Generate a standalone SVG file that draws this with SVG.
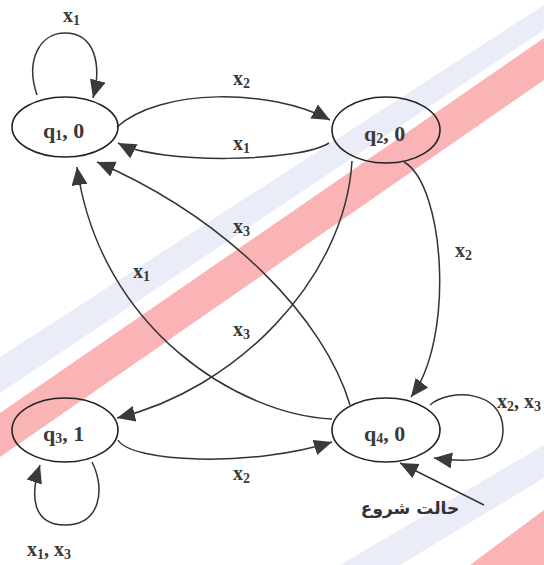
<svg xmlns="http://www.w3.org/2000/svg" width="544" height="565" viewBox="0 0 544 565">
  <style>
    .node ellipse { fill: none; stroke: #222; stroke-width: 1.6; }
    .nl { font-family: "Liberation Serif", "Times New Roman", serif; font-weight: bold; font-size: 22px; fill: #3a3a3a; }
    .el { font-family: "Liberation Serif", "Times New Roman", serif; font-weight: bold; font-size: 20px; fill: #3a3a3a; }
    .sub { font-size: 14px; }
    .edge { fill: none; stroke: #333; stroke-width: 1.5; marker-end: url(#ah); }
    .ar { font-family: "DejaVu Sans", sans-serif; font-weight: bold; font-size: 17px; fill: #333; }
  </style>
  <defs>
    <marker id="ah" markerUnits="userSpaceOnUse" markerWidth="20" markerHeight="18" refX="18" refY="8" orient="auto">
      <path d="M0,0 L18,8 L0,16 z" fill="#3a3a3a"/>
    </marker>
  </defs>
  <rect width="544" height="565" fill="#fff"/>
  <g id="watermark">
    <polygon points="544,5 544,30 0,393 0,357" fill="#eaedf8"/>
    <polygon points="544,38 544,80 0,457 0,413" fill="#fbb4b6"/>
    <polygon points="544,445 544,478 400,565 340,565" fill="#eaedf8"/>
    <polygon points="544,510 544,565 470,565" fill="#fbb4b6"/>
  </g>
  <g id="connectors">
    <path class="edge" d="M37,95 C25,60 40,33 65,33 C95,33 102,65 93,98"/>
    <path class="edge" d="M117,127 C160,88 270,88 330,120"/>
    <path class="edge" d="M329,143 C300,162 160,165 118,143"/>
    <path class="edge" d="M352,161 C345,280 235,390 117,418"/>
    <path class="edge" d="M350,405 C325,320 230,220 97,162"/>
    <path class="edge" d="M332,419 C240,415 100,330 77,167"/>
    <path class="edge" d="M404,162 C445,185 455,340 411,397"/>
    <path class="edge" d="M118,440 C130,462 250,468 332,442"/>
    <path class="edge" d="M430,405 C450,388 503,390 503,430 C503,462 470,463 434,458"/>
    <path class="edge" d="M92,462 C106,490 100,525 65,525 C32,525 30,495 40,465"/>
    <path class="edge" d="M484,505 L400,463"/>
    <text class="el" x="63" y="22">x<tspan class="sub" dy="3">1</tspan></text>
    <text class="el" x="233" y="85">x<tspan class="sub" dy="3">2</tspan></text>
    <text class="el" x="233" y="150">x<tspan class="sub" dy="3">1</tspan></text>
    <text class="el" x="233" y="233">x<tspan class="sub" dy="3">3</tspan></text>
    <text class="el" x="133" y="278">x<tspan class="sub" dy="3">1</tspan></text>
    <text class="el" x="233" y="336">x<tspan class="sub" dy="3">3</tspan></text>
    <text class="el" x="455" y="257">x<tspan class="sub" dy="3">2</tspan></text>
    <text class="el" x="233" y="480">x<tspan class="sub" dy="3">2</tspan></text>
    <text class="el" x="497" y="408">x<tspan class="sub" dy="3">2</tspan><tspan dy="-3">, x</tspan><tspan class="sub" dy="3">3</tspan></text>
    <text class="el" x="27" y="556">x<tspan class="sub" dy="3">1</tspan><tspan dy="-3">, x</tspan><tspan class="sub" dy="3">3</tspan></text>
    <text class="ar" x="410" y="514" text-anchor="middle">حالت شروع</text>
  </g>
  <g id="q1" class="node">
    <ellipse cx="65" cy="127" rx="53" ry="30"/>
    <text class="nl" x="43" y="138">q<tspan class="sub" font-size="15" dy="2">1</tspan><tspan dy="-2">, 0</tspan></text>
  </g>
  <g id="q2" class="node">
    <ellipse cx="386" cy="130" rx="54" ry="33"/>
    <text class="nl" x="364" y="141">q<tspan class="sub" font-size="15" dy="2">2</tspan><tspan dy="-2">, 0</tspan></text>
  </g>
  <g id="q3" class="node">
    <ellipse cx="65" cy="430" rx="53" ry="32"/>
    <text class="nl" x="43" y="441">q<tspan class="sub" font-size="15" dy="2">3</tspan><tspan dy="-2">, 1</tspan></text>
  </g>
  <g id="q4" class="node">
    <ellipse cx="386" cy="430" rx="54" ry="32"/>
    <text class="nl" x="364" y="441">q<tspan class="sub" font-size="15" dy="2">4</tspan><tspan dy="-2">, 0</tspan></text>
  </g>
</svg>
